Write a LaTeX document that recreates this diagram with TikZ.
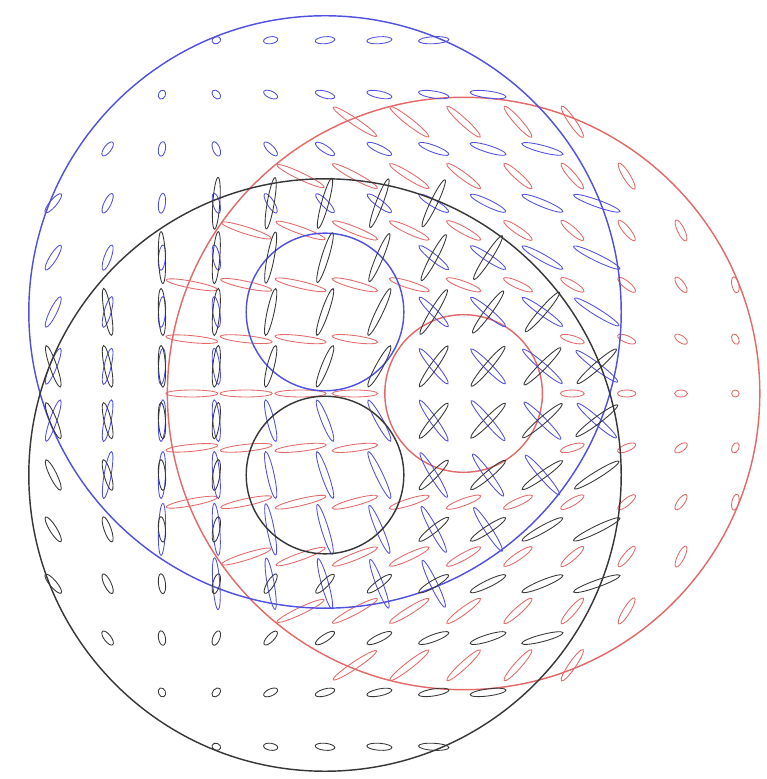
\documentclass[tikz,border=0pt]{standalone}
\usepackage{tikz}
\definecolor{cblue}{RGB}{80,80,225}
\definecolor{cred}{RGB}{228,105,105}
\definecolor{cblack}{RGB}{55,55,55}
\tikzset{
  ringline/.style={line width=0.75pt},
  ellline/.style={line width=0.45pt}
}
% #1 colour, #2 centre x, #3 centre y, #4 direction of the pole (deg)
\newcommand\drawfam[4]{%
  \draw[#1, ringline] (#2,#3) circle (5.45);
  \draw[#1, ringline] (#2,#3) circle (1.45);
  \foreach \i in {-5,...,5}{%
    \foreach \j in {-5,...,5}{%
      \pgfmathsetmacro\rr{sqrt(\i*\i+\j*\j)}%
      \pgfmathtruncatemacro\ok{(\rr>1.46 && \rr<5.45) ? 1 : 0}%
      \ifnum\ok=1
        \pgfmathsetmacro\px{#2+\i}%
        \pgfmathsetmacro\py{#3+\j}%
        \pgfmathsetmacro\vx{\px-(#2+5.45*cos(#4))}%
        \pgfmathsetmacro\vy{\py-(#3+5.45*sin(#4))}%
        \pgfmathsetmacro\th{atan2(\vy,\vx)}%
        \pgfmathsetmacro\dd{sqrt(\vx*\vx+\vy*\vy)}%
        \pgfmathsetmacro\Lpx{min(5+5.435*\dd,52)}%
        \pgfmathsetmacro\ea{\Lpx/108.7}%
        \pgfmathsetmacro\eb{min(7,\Lpx)/108.7}%
        \draw[#1, ellline, shift={(\px,\py)}, rotate=\th] (0,0) ellipse [x radius=\ea, y radius=\eb];
      \fi
    }%
  }%
}
\begin{document}
\begin{tikzpicture}
\useasboundingbox (-5.98,-8.593) rectangle (8.114,5.74);
\fill[white] (-5.98,-8.593) rectangle (8.114,5.74);
\drawfam{cred}{2.55}{-1.5}{0}
\drawfam{cblue}{0}{0}{119.5}
\drawfam{cblack}{0}{-3}{240.5}
\end{tikzpicture}
\end{document}
